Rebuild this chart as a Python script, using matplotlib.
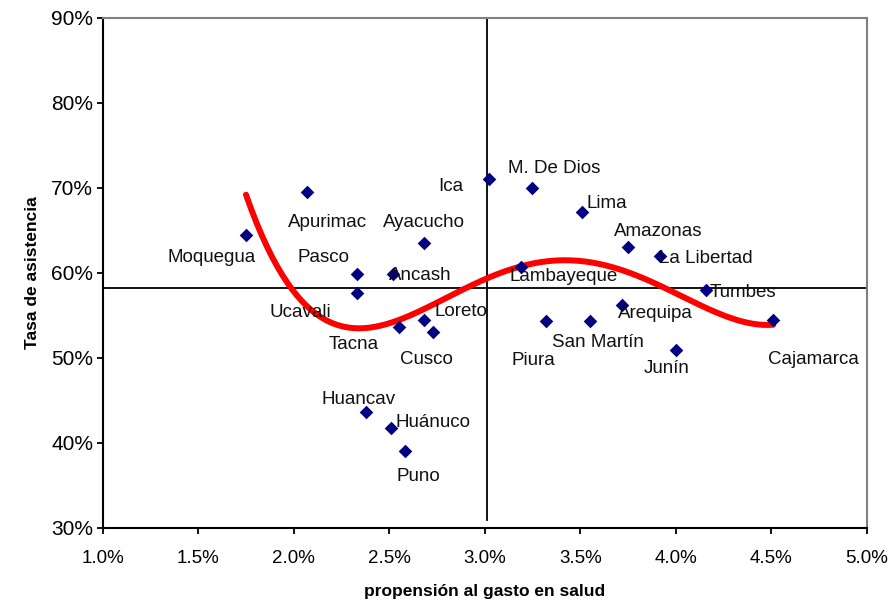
import numpy as np
import matplotlib.pyplot as plt
from matplotlib.ticker import FuncFormatter, MultipleLocator

# departments: propension al gasto en salud (%) vs tasa de asistencia (%)
regions = ['Moquegua', 'Apurimac', 'Ayacucho', 'Pasco', 'Ancash', 'Ucavali',
           'Tacna', 'Loreto', 'Cusco', 'Ica', 'M. De Dios', 'Lima', 'Amazonas',
           'La Libertad', 'Lambayeque', 'Tumbes', 'Arequipa', 'Piura',
           'San Martín', 'Junín', 'Cajamarca', 'Huancav', 'Huánuco', 'Puno']
gasto = [1.75, 2.07, 2.68, 2.33, 2.52, 2.33,
         2.55, 2.68, 2.73, 3.02, 3.25, 3.51, 3.75,
         3.92, 3.19, 4.16, 3.72, 3.32,
         3.55, 4.00, 4.51, 2.38, 2.51, 2.58]
asistencia = [64.4, 69.5, 63.5, 59.9, 59.9, 57.6,
              53.6, 54.5, 53.0, 71.0, 70.0, 67.2, 63.0,
              62.0, 60.7, 58.0, 56.2, 54.3,
              54.3, 50.9, 54.4, 43.6, 41.8, 39.1]
# label offsets in pixels (dx right, dy up)
label_off = [(-34, -22), (20, -30), (0, 21), (-33, 16), (27, -2), (-56, -19),
             (-45, -17), (37, 8), (-7, -27), (-38, -7), (22, 19), (25, 8), (30, 16),
             (45, -3), (43, -10), (37, -3), (33, -8), (-12, -39),
             (8, -21), (-9, -18), (40, -39), (-8, 13), (42, 5), (14, -26)]

# mean lines
x_mean = 3.01
y_mean = 58.2

plt.rcParams['font.family'] = ['Liberation Sans', 'DejaVu Sans']

fig = plt.figure(figsize=(8.95, 6.12), dpi=100)
ax = fig.add_axes([0.1148, 0.1373, 0.9684 - 0.1148, 0.9711 - 0.1373])

# polynomial trendline (order 4) fitted on the data
coef = np.polyfit(gasto, asistencia, 4)
xs = np.linspace(min(gasto), max(gasto), 200)
ax.plot(xs, np.polyval(coef, xs), color='red', lw=4.3, zorder=3,
        solid_capstyle='round')

ax.axvline(x_mean, ymin=(30.9 - 30) / 60, ymax=1, color='black', lw=1.3, zorder=2)
ax.axhline(y_mean, color='black', lw=1.3, zorder=2)

ax.scatter(gasto, asistencia, marker='D', s=48, color='#000080', zorder=4,
           linewidths=0)

for name, x, y, (dx, dy) in zip(regions, gasto, asistencia, label_off):
    ax.annotate(name, (x, y), xytext=(dx, dy), textcoords='offset pixels',
                ha='center', va='center', fontsize=13.5, color='#111111', zorder=5)

ax.set_xlim(1.0, 5.0)
ax.set_ylim(30, 90)
ax.xaxis.set_major_locator(MultipleLocator(0.5))
ax.yaxis.set_major_locator(MultipleLocator(10))
ax.xaxis.set_major_formatter(FuncFormatter(lambda v, p: '%.1f%%' % v))
ax.yaxis.set_major_formatter(FuncFormatter(lambda v, p: '%d%%' % v))
ax.tick_params(axis='both', direction='out', length=4, width=1.3, colors='black')
ax.tick_params(axis='x', pad=12, labelsize=13.5)
ax.tick_params(axis='y', pad=3, labelsize=15)

for side in ['left', 'bottom']:
    ax.spines[side].set_color('black')
    ax.spines[side].set_linewidth(1.5)
for side in ['top', 'right']:
    ax.spines[side].set_color('#808080')
    ax.spines[side].set_linewidth(1.5)

ax.set_xlabel('propensión al gasto en salud', fontsize=12.5, fontweight='bold',
              labelpad=12)
ax.set_ylabel('Tasa de asistencia', fontsize=12.5, fontweight='bold', labelpad=8)

fig.savefig('out.png', dpi=100)
